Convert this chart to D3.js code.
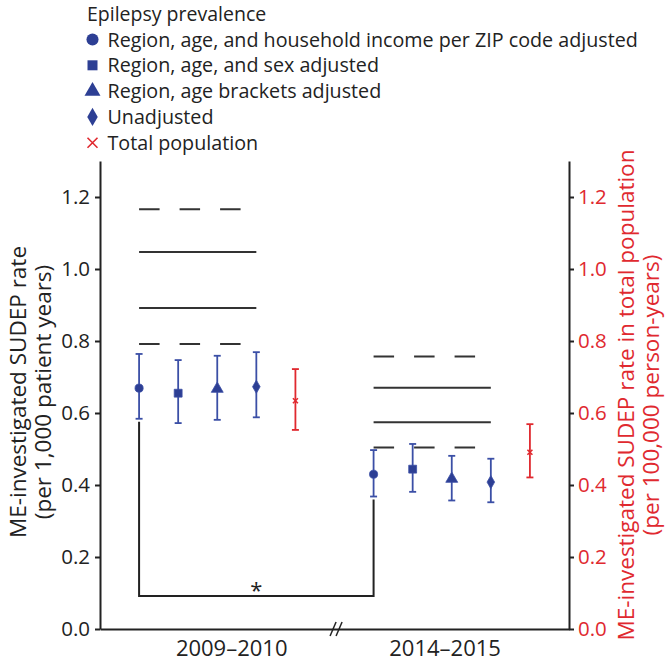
<!DOCTYPE html>
<html>
<head>
<meta charset="utf-8">
<script src="https://cdn.jsdelivr.net/npm/d3@7"></script>
<style>
  html, body { margin: 0; padding: 0; background: #fff; }
  svg { display: block; font-family: "Open Sans", "Noto Sans", sans-serif; }
</style>
</head>
<body>
<svg id="chart" width="668" height="663"></svg>
<script>
// ---------------- data ----------------
const periods = ["2009–2010", "2014–2015"];
const seriesNames = [
  "Region, age, and household income per ZIP code adjusted",
  "Region, age, and sex adjusted",
  "Region, age brackets adjusted",
  "Unadjusted",
  "Total population"
];
const legendTitle = "Epilepsy prevalence";
// point estimates, lower and upper CI (last one = total population, right axis)
const est2009 = [0.669, 0.655, 0.667, 0.673, 0.634];
const lo2009  = [0.584, 0.572, 0.581, 0.588, 0.553];
const hi2009  = [0.764, 0.747, 0.759, 0.769, 0.722];
const est2014 = [0.430, 0.444, 0.417, 0.408, 0.491];
const lo2014  = [0.368, 0.381, 0.357, 0.352, 0.421];
const hi2014  = [0.497, 0.514, 0.481, 0.473, 0.569];
// horizontal reference lines per period
const dashed2009 = [1.166, 0.792];
const solid2009  = [1.047, 0.892];
const dashed2014 = [0.757, 0.504];
const solid2014  = [0.670, 0.574];
const bracketValue = 0.092;
const yTicks = [0.0, 0.2, 0.4, 0.6, 0.8, 1.0, 1.2];
const leftTitle = ["ME-investigated SUDEP rate", "(per 1,000 patient years)"];
const rightTitle = ["ME-investigated SUDEP rate in total population", "(per 100,000 person-years)"];

// slot layout: 5 markers per period, one empty slot between periods
const slotsPerPeriod = 6;
const periodLabelSlot = [2.37, 7.83];
const breakSlot = 5.04;

// ---------------- setup ----------------
const blue = "#3b4fa6", blueFill = "#2d3f94", red = "#e0292f", ink = "#222";
const svg = d3.select("#chart");
const x = d3.scaleLinear().domain([-1, 11]).range([100, 569]);
const y = d3.scaleLinear().domain([0, 1.3]).range([629, 161]);
const yR = d3.scaleLinear().domain([0, 1.3]).range([629, 161]);

const data = [];
[[est2009, lo2009, hi2009], [est2014, lo2014, hi2014]].forEach((arr, g) => {
  arr[0].forEach((v, s) => data.push({g, s, slot: g * slotsPerPeriod + s, est: v, lo: arr[1][s], hi: arr[2][s]}));
});

const symbols = [d3.symbolCircle, d3.symbolSquare, d3.symbolTriangle, d3.symbolDiamond, d3.symbolCross];
const chartSizes = [52, 62, 62, 50, 0];
const legendSizes = [115, 100, 110, 95, 0];

// ---------------- axes ----------------
const axL = svg.append("g").attr("transform", "translate(100,0)")
  .call(d3.axisLeft(y).tickValues(yTicks).tickFormat(d3.format(".1f")).tickSize(5).tickSizeOuter(0).tickPadding(5));
axL.select(".domain").attr("stroke", ink).attr("stroke-width", 2);
axL.selectAll(".tick line").attr("stroke", ink).attr("stroke-width", 2);
axL.selectAll("text").attr("fill", ink).style("font-size", "20.5px").style("font-family", '"Open Sans", sans-serif');

const axR = svg.append("g").attr("transform", "translate(569,0)")
  .call(d3.axisRight(yR).tickValues(yTicks).tickFormat(d3.format(".1f")).tickSize(5).tickSizeOuter(0).tickPadding(4));
axR.select(".domain").attr("stroke", ink).attr("stroke-width", 2);
axR.selectAll(".tick line").attr("stroke", ink).attr("stroke-width", 2);
axR.selectAll("text").attr("fill", red).style("font-size", "20.5px").style("font-family", '"Open Sans", sans-serif');

// bottom axis line
const axB = svg.append("g").attr("transform", `translate(0,${y(0)})`)
  .call(d3.axisBottom(x).tickValues([]).tickSizeOuter(0));
axB.select(".domain").attr("stroke", ink).attr("stroke-width", 2);
// break marks
[-3, 3].forEach(dx => {
  svg.append("line")
    .attr("x1", x(breakSlot) + dx - 3).attr("y1", y(0) + 7)
    .attr("x2", x(breakSlot) + dx + 3).attr("y2", y(0) - 7)
    .attr("stroke", ink).attr("stroke-width", 1.5);
});
// period labels
svg.selectAll(".plabel").data(periods).join("text")
  .attr("x", (d, i) => x(periodLabelSlot[i])).attr("y", 656)
  .attr("text-anchor", "middle").attr("fill", ink)
  .style("font-size", "22px").text(d => d);

// axis titles
const lt = svg.append("text").attr("transform", "translate(0,392) rotate(-90)")
  .attr("text-anchor", "middle").attr("fill", ink).style("font-size", "22.5px");
lt.append("tspan").attr("x", 0).attr("y", 26).text(leftTitle[0]);
lt.append("tspan").attr("x", 0).attr("y", 51).text(leftTitle[1]);
const rt = svg.append("text").attr("transform", "translate(0,395) rotate(-90)")
  .attr("text-anchor", "middle").attr("fill", red).style("font-size", "22.5px");
rt.append("tspan").attr("x", 0).attr("y", 634).text(rightTitle[0]);
rt.append("tspan").attr("x", 0).attr("y", 659).text(rightTitle[1]);

// ---------------- reference lines ----------------
const refLines = [];
dashed2009.forEach(v => refLines.push({g: 0, v, dashed: true}));
solid2009.forEach(v => refLines.push({g: 0, v, dashed: false}));
dashed2014.forEach(v => refLines.push({g: 1, v, dashed: true}));
solid2014.forEach(v => refLines.push({g: 1, v, dashed: false}));
svg.selectAll(".ref").data(refLines).join("line")
  .attr("x1", d => x(d.g * slotsPerPeriod)).attr("x2", d => x(d.g * slotsPerPeriod + 3))
  .attr("y1", d => y(d.v)).attr("y2", d => y(d.v))
  .attr("stroke", "#333").attr("stroke-width", 2)
  .attr("stroke-dasharray", d => d.dashed ? "20.5,20" : null);

// ---------------- significance bracket ----------------
const c1 = data.find(d => d.g === 0 && d.s === 0), c2 = data.find(d => d.g === 1 && d.s === 0);
svg.append("path")
  .attr("d", `M${x(c1.slot)},${y(c1.lo) + 3}V${y(bracketValue)}H${x(c2.slot)}V${y(c2.lo) + 3}`)
  .attr("fill", "none").attr("stroke", ink).attr("stroke-width", 2);
svg.append("text").attr("x", x((c1.slot + c2.slot) / 2)).attr("y", y(bracketValue) + 2)
  .attr("text-anchor", "middle").attr("fill", ink).style("font-size", "22px").text("*");

// ---------------- error bars & markers ----------------
const eb = svg.selectAll(".eb").data(data).join("g")
  .attr("stroke", d => d.s === 4 ? red : blue).attr("stroke-width", 1.8).attr("fill", "none");
eb.append("line").attr("x1", d => x(d.slot)).attr("x2", d => x(d.slot))
  .attr("y1", d => (d.s === 4 ? yR : y)(d.lo)).attr("y2", d => (d.s === 4 ? yR : y)(d.hi));
eb.append("line").attr("x1", d => x(d.slot) - 3.5).attr("x2", d => x(d.slot) + 3.5)
  .attr("y1", d => (d.s === 4 ? yR : y)(d.lo)).attr("y2", d => (d.s === 4 ? yR : y)(d.lo));
eb.append("line").attr("x1", d => x(d.slot) - 3.5).attr("x2", d => x(d.slot) + 3.5)
  .attr("y1", d => (d.s === 4 ? yR : y)(d.hi)).attr("y2", d => (d.s === 4 ? yR : y)(d.hi));

svg.selectAll(".mk").data(data.filter(d => d.s < 4)).join("path")
  .attr("transform", d => `translate(${x(d.slot)},${y(d.est)})`)
  .attr("d", d => d3.symbol(symbols[d.s], chartSizes[d.s])())
  .attr("fill", blueFill).attr("stroke", blue).attr("stroke-width", 0.8);
svg.selectAll(".mkx").data(data.filter(d => d.s === 4)).join("path")
  .attr("transform", d => `translate(${x(d.slot)},${yR(d.est)})`)
  .attr("d", "M-2.5,-2.5L2.5,2.5M-2.5,2.5L2.5,-2.5")
  .attr("stroke", red).attr("stroke-width", 1.6);

// ---------------- legend ----------------
const lg = svg.append("g");
lg.append("text").attr("x", 87).attr("y", 21).attr("fill", ink).style("font-size", "19.5px").text(legendTitle);
const rows = lg.selectAll(".lrow").data(seriesNames).join("g")
  .attr("transform", (d, i) => `translate(92.5,${39.5 + i * 25.8})`);
rows.filter((d, i) => i < 4).append("path")
  .attr("d", (d, i) => d3.symbol(symbols[i], legendSizes[i])())
  .attr("fill", blueFill);
rows.filter((d, i) => i === 4).append("path")
  .attr("d", "M-5,-5L5,5M-5,5L5,-5").attr("stroke", red).attr("stroke-width", 1.6);
rows.append("text").attr("x", 15).attr("y", 7).attr("fill", ink).style("font-size", "19.7px").text(d => d);
</script>
</body>
</html>
